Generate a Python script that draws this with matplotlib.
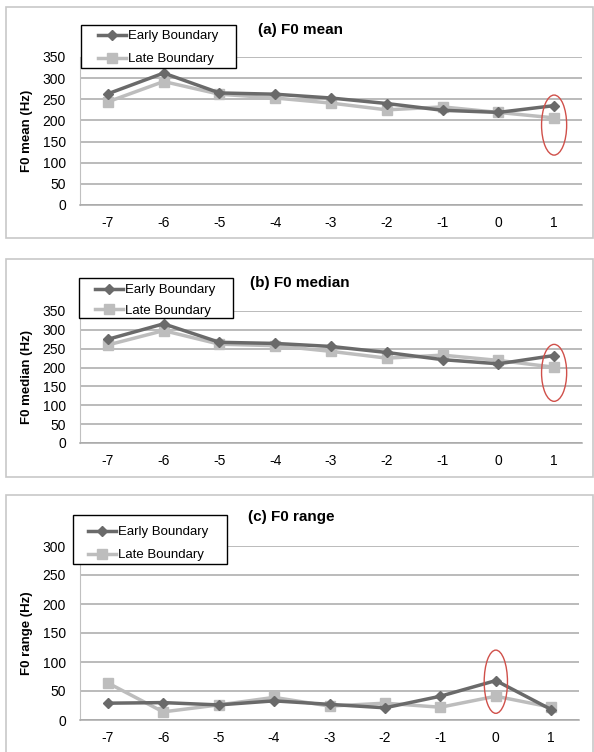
import matplotlib.pyplot as plt
from matplotlib.patches import Ellipse, Rectangle

plt.rcParams['font.family'] = ['Liberation Sans', 'DejaVu Sans']

positions = [-7, -6, -5, -4, -3, -2, -1, 0, 1]

# (a) F0 mean
mean_early = [263, 312, 265, 262, 253, 240, 224, 219, 235]
mean_late = [244, 292, 262, 253, 241, 225, 232, 219, 206]

# (b) F0 median
median_early = [275, 316, 267, 264, 256, 240, 221, 210, 232]
median_late = [260, 298, 262, 258, 243, 225, 233, 219, 201]

# (c) F0 range
range_early = [29, 30, 26, 33, 27, 21, 41, 68, 18]
range_late = [64, 14, 26, 39, 24, 29, 22, 41, 22]

W, H = 594, 752
fig = plt.figure(figsize=(W / 100, H / 100), dpi=100)

early_col = '#6a6a6a'
late_col = '#bdbdbd'
grid_col = '#a8a8a8'


def px_rect(x0, y0, x1, y1):
    return [x0 / W, 1 - y1 / H, (x1 - x0) / W, (y1 - y0) / H]


panels = [
    dict(box=(6, 7, 593, 238), ax=(80, 57, 582, 205),
         legbox=(81, 25, 236, 68), leg=(98, 30), ls=0.83, tit=(258, 30),
         title='(a) F0 mean', ylab='F0 mean (Hz)', ymax=350,
         early=mean_early, late=mean_late, ell=(1, 189, 0.45, 142)),
    dict(box=(6, 259, 593, 477), ax=(80, 311, 582, 443),
         legbox=(79, 278, 233, 318), leg=(95, 284), ls=0.62, tit=(250, 283),
         title='(b) F0 median', ylab='F0 median (Hz)', ymax=350,
         early=median_early, late=median_late, ell=(1, 186, 0.45, 151)),
    dict(box=(6, 495, 593, 760), ax=(80, 546, 579, 720),
         legbox=(73, 515, 227, 564), leg=(88, 526), ls=0.83, tit=(248, 517),
         title='(c) F0 range', ylab='F0 range (Hz)', ymax=300,
         early=range_early, late=range_late, ell=(0, 66, 0.42, 109)),
]

for p in panels:
    # light grey panel frame
    x0, y0, x1, y1 = p['box']
    fig.patches.append(Rectangle((x0 / W, 1 - y1 / H), (x1 - x0) / W, (y1 - y0) / H,
                                 transform=fig.transFigure, facecolor='none',
                                 edgecolor='#c8c8c8', linewidth=1.2))

    ax = fig.add_axes(px_rect(*p['ax']))
    ax.plot(positions, p['early'], color=early_col, lw=2.5, marker='D', ms=5.5,
            label='Early Boundary', zorder=3)
    ax.plot(positions, p['late'], color=late_col, lw=2.5, marker='s', ms=7,
            label='Late Boundary', zorder=2)

    ax.set_xlim(-7.5, 1.5)
    ax.set_ylim(0, p['ymax'])
    ax.set_xticks(positions)
    ax.set_xticklabels([str(v) for v in positions])
    ax.set_yticks(range(0, p['ymax'] + 1, 50))
    ax.tick_params(length=0, labelsize=10)
    ax.tick_params(axis='y', pad=10)
    ax.tick_params(axis='x', pad=8)
    ax.grid(axis='y', color=grid_col, lw=1.1)
    ax.set_axisbelow(True)
    for s in ['top', 'right']:
        ax.spines[s].set_visible(False)
    ax.spines['left'].set_color('#c0c0c0')
    ax.spines['bottom'].set_color(grid_col)
    ax.spines['bottom'].set_linewidth(1.1)

    ax.set_ylabel(p['ylab'], fontsize=9.5, fontweight='bold')
    ax.yaxis.set_label_coords(-0.094, 0.5)

    ex, ey, ew, eh = p['ell']
    ax.add_patch(Ellipse((ex, ey), ew, eh, fill=False, edgecolor='#d0504a',
                         lw=1, clip_on=False, zorder=4))

    # legend: white box with black frame, entries placed inside
    bx0, by0, bx1, by1 = p['legbox']
    ax.add_patch(Rectangle((bx0 / W, 1 - by1 / H), (bx1 - bx0) / W, (by1 - by0) / H,
                           transform=fig.transFigure, facecolor='white',
                           edgecolor='black', linewidth=1, zorder=5, clip_on=False))
    lx, ly = p['leg']
    leg = ax.legend(loc='upper left', bbox_to_anchor=(lx / W, 1 - ly / H),
                    bbox_transform=fig.transFigure, borderaxespad=0, borderpad=0,
                    frameon=False, fontsize=9.5, handlelength=2.1,
                    handletextpad=0.2, labelspacing=p['ls'])
    leg.set_zorder(6)

    tx, ty = p['tit']
    fig.text(tx / W, 1 - ty / H, p['title'], fontsize=11, fontweight='bold',
             ha='left', va='center')

fig.savefig('out.png', dpi=100)
